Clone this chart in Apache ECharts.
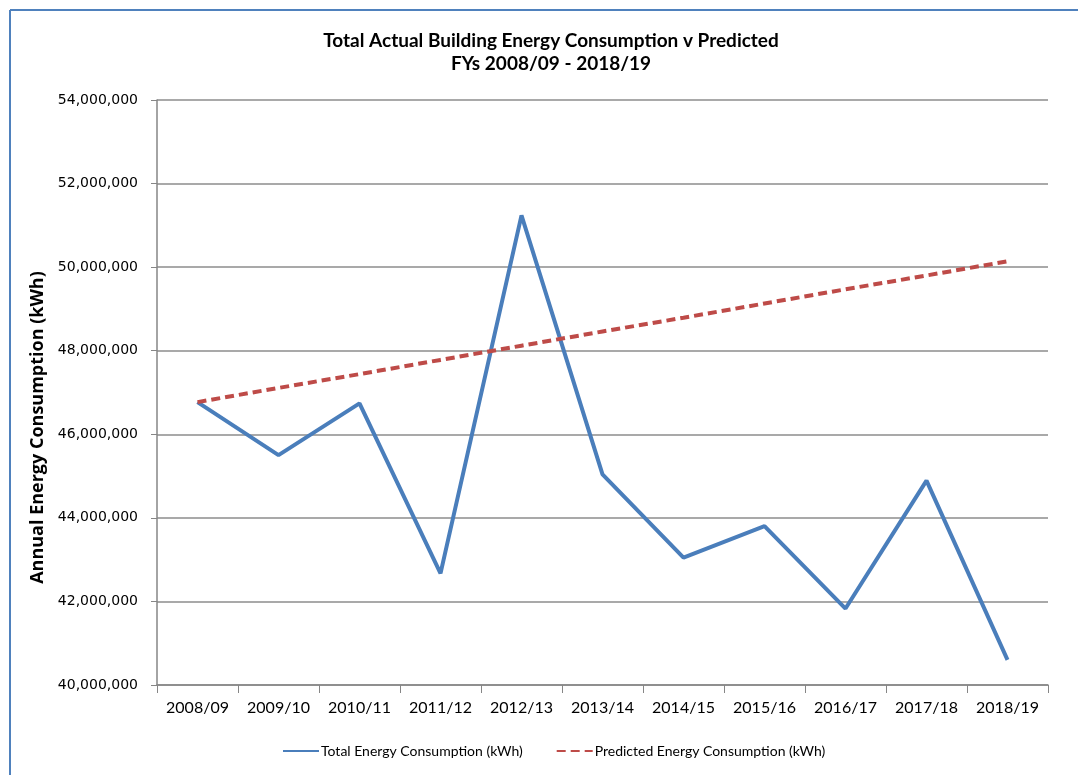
<!DOCTYPE html>
<html>
<head>
<meta charset="utf-8">
<script src="https://cdn.jsdelivr.net/npm/echarts@6/dist/echarts.min.js"></script>
<style>
  html, body { margin: 0; padding: 0; background: #fff; }
  #chart { width: 1078px; height: 775px; }
</style>
</head>
<body>
<div id="chart"></div>
<script>
var years = ['2008/09', '2009/10', '2010/11', '2011/12', '2012/13', '2013/14',
             '2014/15', '2015/16', '2016/17', '2017/18', '2018/19'];

// kWh
var actual = [46770000, 45500000, 46740000, 42670000, 51240000, 45040000,
              43050000, 43800000, 41830000, 44890000, 40600000];
var predicted = [46770000, 47110000, 47440000, 47780000, 48120000, 48460000,
                 48790000, 49130000, 49470000, 49800000, 50140000];

var yTicks = { min: 40000000, max: 54000000, step: 2000000 };

var myChart = echarts.init(document.getElementById('chart'));

myChart.setOption({
  backgroundColor: '#fff',
  animation: false,
  title: {
    text: 'Total Actual Building Energy Consumption v Predicted\nFYs 2008/09 - 2018/19',
    left: 546,
    textAlign: 'center',
    top: 24,
    textStyle: {
      fontFamily: 'Lato',
      fontWeight: 'bold',
      fontSize: 19,
      lineHeight: 23,
      color: '#000'
    }
  },
  grid: { left: 157, right: 30, top: 100, bottom: 90 },
  legend: {
    bottom: 12,
    left: 277,
    itemWidth: 36,
    itemHeight: 10,
    itemGap: 33,
    itemStyle: { opacity: 0 },
    textStyle: { fontFamily: 'Lato', fontSize: 14, color: '#000', padding: [0, 0, 0, -3] },
    data: ['Total Energy Consumption (kWh)', 'Predicted Energy Consumption (kWh)']
  },
  xAxis: {
    type: 'category',
    data: years,
    boundaryGap: true,
    axisLine: { lineStyle: { color: '#868686', width: 1.5 } },
    axisTick: { show: true, interval: 0, length: 8, lineStyle: { color: '#868686' } },
    axisLabel: { interval: 0, color: '#000', fontFamily: 'Lato', fontSize: 16, margin: 15 }
  },
  yAxis: {
    type: 'value',
    min: yTicks.min,
    max: yTicks.max,
    interval: yTicks.step,
    name: 'Annual Energy Consumption (kWh)',
    nameLocation: 'middle',
    nameGap: 101,
    nameTextStyle: {
      fontFamily: 'Open Sans', fontWeight: 'bold', fontSize: 18, color: '#000',
      padding: [0, 70, 0, 0]
    },
    axisLine: { show: true, lineStyle: { color: '#868686', width: 1.5 } },
    axisTick: { show: true, length: 6, lineStyle: { color: '#868686' } },
    axisLabel: {
      color: '#000',
      fontFamily: 'DejaVu Sans',
      fontSize: 14,
      margin: 19,
      formatter: function (v) { return v.toLocaleString('en-US'); }
    },
    splitLine: { lineStyle: { color: '#8c8c8c', width: 1.5 } }
  },
  series: [
    {
      name: 'Total Energy Consumption (kWh)',
      type: 'line',
      data: actual,
      symbol: 'none',
      lineStyle: { color: '#4a7ebb', width: 4 },
      itemStyle: { color: '#4a7ebb' }
    },
    {
      name: 'Predicted Energy Consumption (kWh)',
      type: 'line',
      data: predicted,
      symbol: 'none',
      lineStyle: { color: '#be4b48', width: 4, type: [9, 5] },
      itemStyle: { color: '#be4b48' }
    }
  ],
  graphic: [
    { type: 'line', shape: { x1: 10, y1: 10, x2: 1078, y2: 10 }, style: { stroke: '#4f81bd', lineWidth: 2 } },
    { type: 'line', shape: { x1: 10, y1: 10, x2: 10, y2: 775 }, style: { stroke: '#4f81bd', lineWidth: 2 } }
  ]
});
</script>
</body>
</html>
